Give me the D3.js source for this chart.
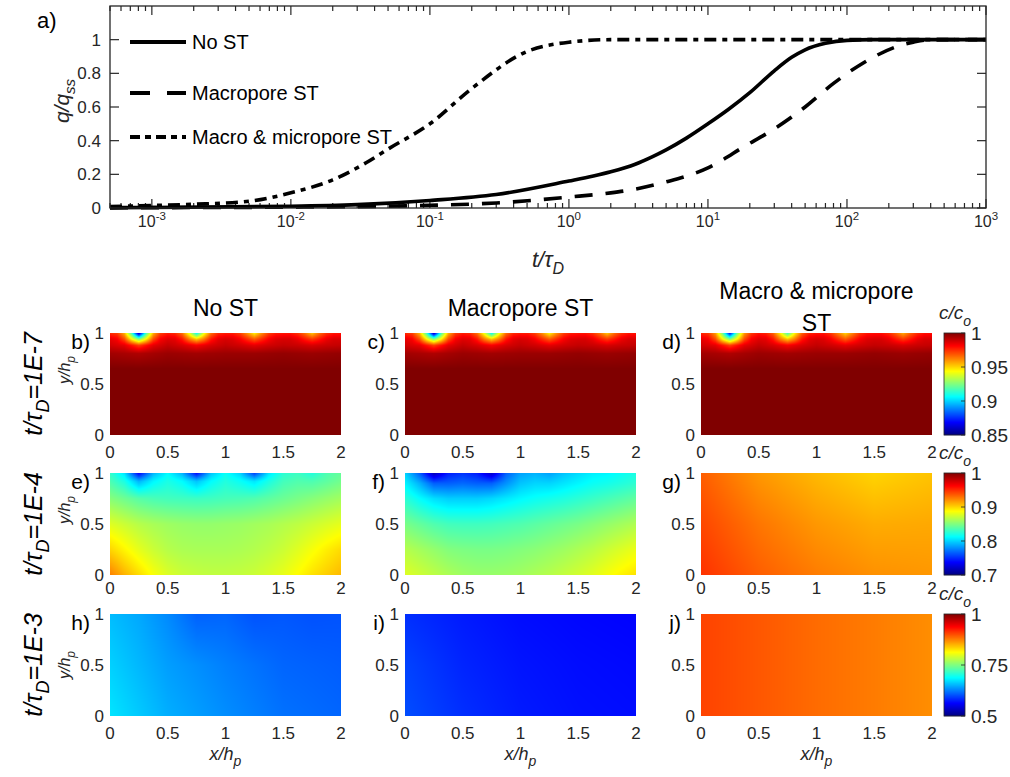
<!DOCTYPE html>
<html><head><meta charset="utf-8">
<script src="https://cdn.jsdelivr.net/npm/d3@7"></script>
<style>
body{margin:0;background:#fff;}
svg text{font-family:"Liberation Sans",Arial,Helvetica,sans-serif;}
</style></head><body>
<script>
// ---------------- DATA ----------------
// Panel a): q/q_ss versus t/tau_D
const tNoST       = [5e-4,1e-3,1e-2,0.03,0.1,0.3,1,1.5,2,3,4,5,7,10,14,20,30,40,50,70,100,150,1000];
const qNoST       = [0.002,0.003,0.01,0.02,0.045,0.08,0.16,0.19,0.215,0.26,0.305,0.345,0.415,0.50,0.585,0.685,0.815,0.895,0.94,0.978,0.996,1.0,1.0];
const tMacro      = [5e-4,1e-3,1e-2,0.1,0.3,1,2,3,5,8,10,13,17,30,50,80,130,230,300,400,1000];
const qMacro      = [0.001,0.002,0.005,0.016,0.03,0.065,0.09,0.112,0.155,0.205,0.238,0.29,0.35,0.47,0.60,0.74,0.86,0.96,0.985,1.0,1.0];
const tMacroMicro = [5e-4,1e-3,2e-3,5e-3,1e-2,2e-2,3.5e-2,5e-2,0.1,0.2,0.5,1,2,1000];
const qMacroMicro = [0.008,0.015,0.022,0.04,0.09,0.167,0.27,0.35,0.50,0.71,0.93,0.985,1.0,1.0];
const seriesNames = ["No ST", "Macropore ST", "Macro & micropore ST"];
const xMajorTicks = [1e-3, 1e-2, 1e-1, 1, 10, 100, 1000];
const xTickExponents = ["-3","-2","-1","0","1","2","3"];
const yTicksA = [0, 0.2, 0.4, 0.6, 0.8, 1];

// Concentration fields c/c_o (rows at y/h_p, values evenly spaced over x/h_p = 0..2)
const bTop  = [0.975,0.972,0.955,0.915,0.855,0.915,0.955,0.972,0.977,0.975,0.965,0.94,0.905,0.94,0.965,0.975,0.977,0.977,0.972,0.96,0.945,0.96,0.972,0.977,0.978,0.978,0.974,0.965,0.952,0.965,0.974,0.978,0.978];
const bRing = [0.985,0.982,0.97,0.945,0.925,0.945,0.97,0.982,0.986,0.985,0.978,0.963,0.952,0.963,0.978,0.985,0.987,0.986,0.982,0.975,0.968,0.975,0.982,0.986,0.987,0.987,0.984,0.978,0.973,0.978,0.984,0.987,0.987];
const bBand = [0.988,0.985,0.972,0.985,0.99,0.987,0.982,0.987,0.99,0.988,0.985,0.988,0.99,0.989,0.987,0.989,0.99];
const bDeep = [0.995,0.993,0.996,0.995,0.996,0.996,0.997,0.996,0.997];
const dTop  = [0.976,0.973,0.958,0.922,0.868,0.922,0.958,0.973,0.978,0.976,0.967,0.945,0.915,0.945,0.967,0.976,0.978,0.978,0.973,0.962,0.95,0.962,0.973,0.978,0.979,0.979,0.975,0.967,0.956,0.967,0.975,0.979,0.979];
const fullSat = [1.0];

const eY100 = [0.828,0.805,0.735,0.79,0.812,0.79,0.738,0.795,0.815,0.80,0.755,0.805,0.825,0.83,0.822,0.835,0.842];
const eY092 = [0.835,0.82,0.79,0.81,0.82,0.812,0.795,0.812,0.822,0.815,0.805,0.82,0.832,0.836,0.835,0.84,0.846];
const eY075 = [0.852,0.845,0.838,0.834,0.832,0.831,0.83,0.831,0.833,0.834,0.836,0.84,0.844,0.848,0.852,0.856,0.86];
const eY050 = [0.878,0.872,0.866,0.862,0.859,0.857,0.856,0.856,0.857,0.858,0.86,0.862,0.865,0.868,0.872,0.876,0.88];
const eY025 = [0.9,0.89,0.88,0.872,0.866,0.863,0.862,0.862,0.862,0.863,0.865,0.868,0.872,0.878,0.885,0.892,0.898];
const eY000 = [0.925,0.91,0.898,0.886,0.877,0.872,0.87,0.869,0.869,0.87,0.872,0.876,0.881,0.888,0.896,0.902,0.908];

const fY100 = [0.80,0.765,0.715,0.745,0.752,0.745,0.72,0.765,0.785,0.79,0.785,0.795,0.802,0.808,0.81,0.815,0.82];
const fY090 = [0.81,0.79,0.765,0.765,0.768,0.765,0.765,0.78,0.795,0.80,0.80,0.805,0.81,0.815,0.818,0.822,0.826];
const fY075 = [0.825,0.813,0.803,0.798,0.798,0.798,0.801,0.806,0.811,0.815,0.818,0.821,0.825,0.829,0.833,0.837,0.841];
const fY050 = [0.848,0.842,0.836,0.832,0.831,0.831,0.832,0.834,0.836,0.839,0.842,0.845,0.848,0.852,0.856,0.86,0.864];
const fY025 = [0.866,0.861,0.856,0.851,0.849,0.848,0.848,0.849,0.851,0.853,0.856,0.859,0.863,0.867,0.872,0.877,0.882];
const fY000 = [0.878,0.873,0.868,0.863,0.859,0.857,0.857,0.858,0.86,0.863,0.866,0.87,0.874,0.879,0.885,0.891,0.896];

const gY100 = [0.935,0.918,0.908,0.900,0.905];
const gY050 = [0.942,0.928,0.918,0.912,0.913];
const gY000 = [0.948,0.935,0.926,0.920,0.918];

const hY100 = [0.655,0.645,0.63,0.61,0.612,0.603,0.605,0.602,0.603];
const hY050 = [0.665,0.64,0.625,0.612,0.608];
const hY000 = [0.675,0.648,0.632,0.618,0.612];

const iY100 = [0.585,0.575,0.568,0.565,0.563];
const iY050 = [0.595,0.58,0.572,0.568,0.566];
const iY000 = [0.60,0.585,0.575,0.57,0.568];

const jY100 = [0.905,0.895,0.885,0.877,0.868];
const jY000 = [0.905,0.895,0.885,0.877,0.868];

const columnTitles = [["No ST"], ["Macropore ST"], ["Macro & micropore", "ST"]];
const rowTimes = ["1E-7", "1E-4", "1E-3"];
const panelLetters = [["b)","c)","d)"],["e)","f)","g)"],["h)","i)","j)"]];
const colorRanges = [[0.85, 1], [0.7, 1], [0.5, 1]];
const colorTicks = [[0.85, 0.9, 0.95, 1], [0.7, 0.8, 0.9, 1], [0.5, 0.75, 1]];
const colorTickLabels = [["0.85","0.9","0.95","1"], ["0.7","0.8","0.9","1"], ["0.5","0.75","1"]];
const xTicksMap = [0, 0.5, 1, 1.5, 2];
const yTicksMap = [0, 0.5, 1];

const fields = [
  [ [[0,fullSat],[0.65,fullSat],[0.8,bDeep],[0.88,bBand],[0.94,bRing],[1,bTop]],
    [[0,fullSat],[0.65,fullSat],[0.8,bDeep],[0.88,bBand],[0.94,bRing],[1,bTop]],
    [[0,fullSat],[0.65,fullSat],[0.8,bDeep],[0.88,bBand],[0.94,bRing],[1,dTop]] ],
  [ [[0,eY000],[0.25,eY025],[0.5,eY050],[0.75,eY075],[0.92,eY092],[1,eY100]],
    [[0,fY000],[0.25,fY025],[0.5,fY050],[0.75,fY075],[0.9,fY090],[1,fY100]],
    [[0,gY000],[0.5,gY050],[1,gY100]] ],
  [ [[0,hY000],[0.5,hY050],[1,hY100]],
    [[0,iY000],[0.5,iY050],[1,iY100]],
    [[0,jY000],[1,jY100]] ]
];

// ---------------- DRAWING ----------------
const W = 1010, H = 777;
const svg = d3.select("body").append("svg").attr("width", W).attr("height", H);
const tickCol = "#262626";

// ---- panel a ----
const ax = {l:110, r:986, t:6, b:208};
const xA = d3.scaleLog().domain([5e-4, 1e3]).range([ax.l, ax.r]);
const yA = d3.scaleLinear().domain([0, 1.2]).range([ax.b, ax.t]);
const gA = svg.append("g");

const minor = [];
for (let e = -4; e <= 2; e++) for (let m = 2; m <= 9; m++) { const v = m*Math.pow(10,e); if (v >= 5e-4 && v <= 1e3) minor.push(v); }
gA.selectAll(".mnb").data(minor).join("line").attr("x1",d=>xA(d)).attr("x2",d=>xA(d)).attr("y1",ax.b).attr("y2",ax.b-5).attr("stroke",tickCol).attr("stroke-width",1.2);
gA.selectAll(".mnt").data(minor).join("line").attr("x1",d=>xA(d)).attr("x2",d=>xA(d)).attr("y1",ax.t).attr("y2",ax.t+5).attr("stroke",tickCol).attr("stroke-width",1.2);
gA.selectAll(".mjb").data(xMajorTicks).join("line").attr("x1",d=>xA(d)).attr("x2",d=>xA(d)).attr("y1",ax.b).attr("y2",ax.b-9).attr("stroke",tickCol).attr("stroke-width",1.2);
gA.selectAll(".mjt").data(xMajorTicks).join("line").attr("x1",d=>xA(d)).attr("x2",d=>xA(d)).attr("y1",ax.t).attr("y2",ax.t+9).attr("stroke",tickCol).attr("stroke-width",1.2);
gA.selectAll(".ytl").data(yTicksA).join("line").attr("x1",ax.l).attr("x2",ax.l+9).attr("y1",d=>yA(d)).attr("y2",d=>yA(d)).attr("stroke",tickCol).attr("stroke-width",1.2);
gA.selectAll(".ytr").data(yTicksA).join("line").attr("x1",ax.r).attr("x2",ax.r-9).attr("y1",d=>yA(d)).attr("y2",d=>yA(d)).attr("stroke",tickCol).attr("stroke-width",1.2);

const xl = gA.selectAll(".xtl").data(xMajorTicks).join("text").attr("x",d=>xA(d)).attr("y",227).attr("text-anchor","middle").attr("font-size",16).attr("fill",tickCol);
xl.append("tspan").text("10");
xl.append("tspan").attr("dy",-7).attr("font-size",11.5).text((d,i)=>xTickExponents[i]);
gA.selectAll(".ytxt").data(yTicksA).join("text").attr("x",101).attr("y",d=>yA(d)+6).attr("text-anchor","end").attr("font-size",17).attr("fill",tickCol).text(d=>d3.format("~g")(d));

const line = d3.line().x(d=>xA(d[0])).y(d=>yA(d[1])).curve(d3.curveMonotoneX);
const mk = (ts, arr) => ts.map((t,i)=>[t, arr[i]]);
const styles = [
  {t: tMacroMicro, data: qMacroMicro, dash: "12,6,5,6"},
  {t: tMacro, data: qMacro, dash: "18,13"},
  {t: tNoST, data: qNoST, dash: null}
];
styles.forEach(s => {
  gA.append("path").attr("d", line(mk(s.t, s.data))).attr("fill","none").attr("stroke","#000").attr("stroke-width",3.6)
    .attr("stroke-dasharray", s.dash);
});
gA.append("rect").attr("x",ax.l).attr("y",ax.t).attr("width",ax.r-ax.l).attr("height",ax.b-ax.t).attr("fill","none").attr("stroke",tickCol).attr("stroke-width",1.3);

const legDash = [null, "20,17", "10,5,6,5"];
const legY = [42, 93, 137];
seriesNames.forEach((n,i)=>{
  gA.append("line").attr("x1",130).attr("x2",186).attr("y1",legY[i]).attr("y2",legY[i]).attr("stroke","#000").attr("stroke-width",4).attr("stroke-dasharray",legDash[i]);
  gA.append("text").attr("x",192).attr("y",legY[i]+7).attr("font-size",20).attr("fill","#000").text(n);
});
gA.append("text").attr("x",37).attr("y",28).attr("font-size",22).attr("fill","#000").text("a)");
const ql = gA.append("text").attr("transform","translate(69,101) rotate(-90)").attr("text-anchor","middle").attr("font-size",21).attr("font-style","italic").attr("fill",tickCol);
ql.append("tspan").text("q/q");
ql.append("tspan").attr("dy",6).attr("font-size",15).text("ss");
const tl = gA.append("text").attr("x",548).attr("y",267).attr("text-anchor","middle").attr("font-size",22).attr("font-style","italic").attr("fill",tickCol);
tl.append("tspan").text("t/τ");
tl.append("tspan").attr("dy",7).attr("font-size",16).text("D");

// ---- heat map panels ----
const jet = d3.scaleLinear().domain([0,0.125,0.375,0.625,0.875,1]).range(["#000080","#0000ff","#00ffff","#ffff00","#ff0000","#800000"]).clamp(true);
const colX = [110, 405, 701];
const rowY = [333, 473, 614];
const pw = 231, ph = 102;
const xLabBase = [458, 594, 739];
const cbX = 944, cbW = 21;

function rowAt(vs, x) {
  if (vs.length === 1) return vs[0];
  const p = x / 2 * (vs.length - 1);
  const i = Math.max(0, Math.min(Math.floor(p), vs.length - 2));
  const f = p - i;
  return vs[i] * (1 - f) + vs[i + 1] * f;
}
function fieldAt(rows, x, y) {
  let k = 0;
  while (k < rows.length - 2 && y > rows[k + 1][0]) k++;
  const [y0, r0] = rows[k], [y1, r1] = rows[k + 1];
  const f = Math.max(0, Math.min(1, (y - y0) / (y1 - y0)));
  return rowAt(r0, x) * (1 - f) + rowAt(r1, x) * f;
}

for (let r = 0; r < 3; r++) {
  const color = d3.scaleSequential(t => jet(t)).domain(colorRanges[r]).clamp(true);
  for (let c = 0; c < 3; c++) {
    const x0 = colX[c], y0 = rowY[r];
    const xs = d3.scaleLinear().domain([0, 2]).range([x0, x0 + pw]);
    const ys = d3.scaleLinear().domain([0, 1]).range([y0 + ph, y0]);
    const cv = document.createElement("canvas");
    cv.width = pw; cv.height = ph;
    const ctx = cv.getContext("2d");
    const im = ctx.createImageData(pw, ph);
    const rows = fields[r][c];
    for (let j = 0; j < ph; j++) {
      const yv = ys.invert(y0 + j + 0.5);
      for (let i = 0; i < pw; i++) {
        const xv = xs.invert(x0 + i + 0.5);
        const col = d3.rgb(color(fieldAt(rows, xv, yv)));
        const k = (j * pw + i) * 4;
        im.data[k] = col.r; im.data[k+1] = col.g; im.data[k+2] = col.b; im.data[k+3] = 255;
      }
    }
    ctx.putImageData(im, 0, 0);
    svg.append("image").attr("x", x0).attr("y", y0).attr("width", pw).attr("height", ph)
      .attr("preserveAspectRatio","none").attr("href", cv.toDataURL());

    svg.append("g").selectAll("text").data(xTicksMap).join("text")
      .attr("x", d => xs(d)).attr("y", xLabBase[r]).attr("text-anchor","middle")
      .attr("font-size",17).attr("fill",tickCol).text(d => d3.format("~g")(d));
    svg.append("g").selectAll("text").data(yTicksMap).join("text")
      .attr("x", x0 - 6).attr("y", d => ys(d) + 6).attr("text-anchor","end")
      .attr("font-size",17).attr("fill",tickCol).text(d => d3.format("~g")(d));
    svg.append("text").attr("x", x0 - 20).attr("y", y0 + 16).attr("text-anchor","end")
      .attr("font-size",21).attr("fill","#000").text(panelLetters[r][c]);
  }
  const y0 = rowY[r];
  const cbs = d3.scaleLinear().domain(colorRanges[r]).range([y0 + ph, y0]);
  const steps = d3.range(0, ph);
  svg.append("g").selectAll("rect").data(steps).join("rect")
    .attr("x", cbX).attr("y", d => y0 + d).attr("width", cbW).attr("height", 1.2)
    .attr("fill", d => color(cbs.invert(y0 + d + 0.5)));
  svg.append("rect").attr("x", cbX).attr("y", y0).attr("width", cbW).attr("height", ph)
    .attr("fill","none").attr("stroke",tickCol).attr("stroke-width",0.8);
  svg.append("g").selectAll("line").data(colorTicks[r]).join("line")
    .attr("x1", cbX + cbW).attr("x2", cbX + cbW - 4).attr("y1", d => cbs(d)).attr("y2", d => cbs(d))
    .attr("stroke", tickCol).attr("stroke-width", 0.8);
  svg.append("g").selectAll("text").data(colorTicks[r]).join("text")
    .attr("x", cbX + cbW + 6).attr("y", d => cbs(d) + 7).attr("font-size",19).attr("fill",tickCol)
    .text((d,i) => colorTickLabels[r][i]);
  const cl = svg.append("text").attr("x", 939).attr("y", y0 - 14).attr("font-size",19).attr("font-style","italic").attr("fill",tickCol);
  cl.append("tspan").text("c/c");
  cl.append("tspan").attr("dy",7).attr("font-size",14).text("o");

  const rl = svg.append("text").attr("transform", `translate(42,${y0 + ph/2}) rotate(-90)`)
    .attr("text-anchor","middle").attr("font-size",25).attr("font-style","italic").attr("fill","#000");
  rl.append("tspan").text("t/τ");
  rl.append("tspan").attr("dy",7).attr("font-size",18).text("D");
  rl.append("tspan").attr("dy",-7).text("=" + rowTimes[r]);

  const yOff = r < 2 ? 37 : ph/2;
  const yl = svg.append("text").attr("transform", `translate(70,${y0 + yOff}) rotate(-90)`)
    .attr("text-anchor","middle").attr("font-size",16).attr("font-style","italic").attr("fill",tickCol);
  yl.append("tspan").text("y/h");
  yl.append("tspan").attr("dy",5).attr("font-size",12).text("p");
}

const titleBase = [[316],[316],[299,331]];
columnTitles.forEach((lines, c) => {
  lines.forEach((s, k) => {
    svg.append("text").attr("x", colX[c] + pw/2).attr("y", titleBase[c][k]).attr("text-anchor","middle")
      .attr("font-size",23).attr("fill","#000").text(s);
  });
  const xl2 = svg.append("text").attr("x", colX[c] + pw/2).attr("y", 760).attr("text-anchor","middle")
    .attr("font-size",18).attr("font-style","italic").attr("fill",tickCol);
  xl2.append("tspan").text("x/h");
  xl2.append("tspan").attr("dy",6).attr("font-size",14).text("p");
});
</script>
</body></html>
